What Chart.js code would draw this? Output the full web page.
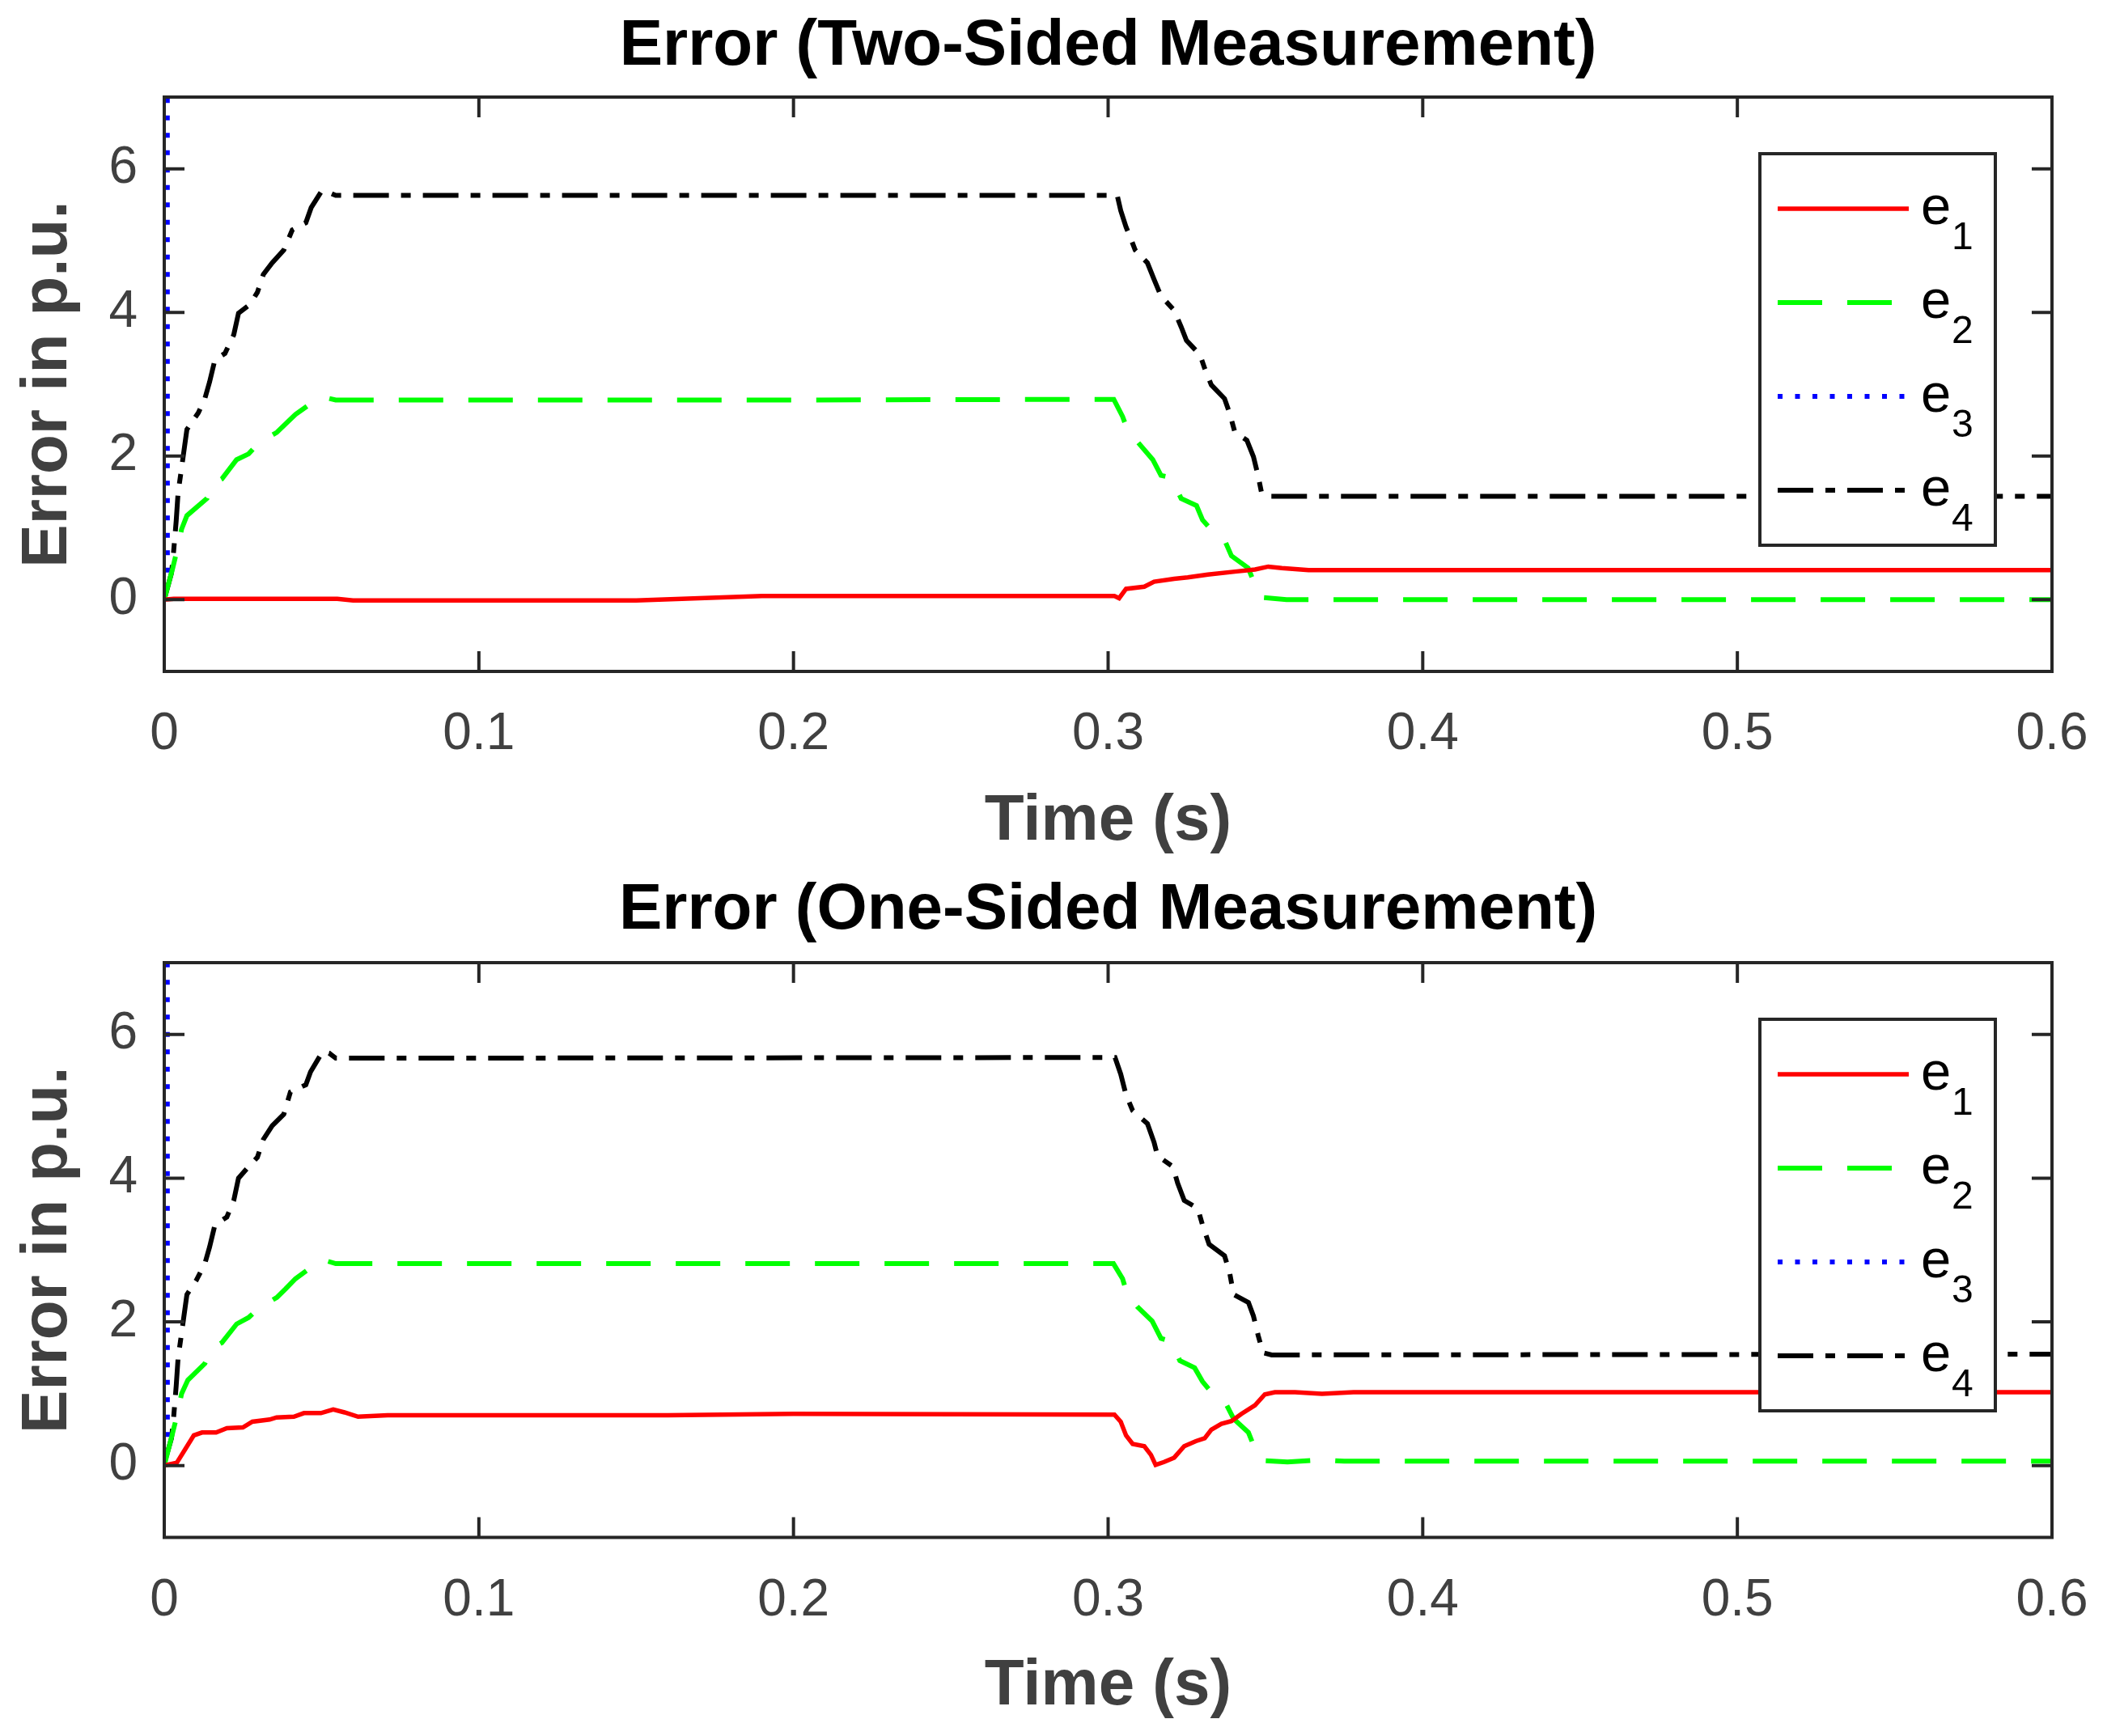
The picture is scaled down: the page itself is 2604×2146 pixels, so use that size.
<!DOCTYPE html>
<html lang="en">
<head>
  <meta charset="UTF-8" />
  <title>Error (Two-Sided / One-Sided Measurement)</title>
  <script src="https://cdn.jsdelivr.net/npm/chart.js"></script>
  <style>
    html, body { margin: 0; padding: 0; background: #fff; }
    .panel { position: absolute; left: 0; width: 2604px; height: 1073px; }
  </style>
</head>
<body>
  <div class="panel" style="top:0"><canvas id="twoSided" width="2604" height="1073"></canvas></div>
  <div class="panel" style="top:1073px"><canvas id="oneSided" width="2604" height="1073"></canvas></div>

  <script>
    // axis ticks
    const xTicks = [0, 0.1, 0.2, 0.3, 0.4, 0.5, 0.6];
    const yTicks = [0, 2, 4, 6];
    const seriesLabels = ["e_1", "e_2", "e_3", "e_4"];

    // two-sided measurement, [time, error]
    const twoE1 = [[0,0.0],[0.003,0.01],[0.055,0.01],[0.06,-0.01],[0.15,-0.01],[0.19,0.05],[0.302,0.05],[0.3035,0.02],
      [0.3057,0.15],[0.3115,0.18],[0.3146,0.25],[0.321,0.29],[0.3253,0.31],[0.3317,0.35],[0.3403,0.39],[0.3467,0.42],
      [0.3509,0.46],[0.3552,0.44],[0.3637,0.41],[0.6,0.41]];
    const twoE2 = [[0,0],[0.0027,0.44],[0.0044,0.75],[0.0055,0.98],[0.0072,1.17],[0.0136,1.41],[0.015,1.6],[0.0183,1.68],
      [0.023,1.95],[0.0268,2.03],[0.03,2.18],[0.0358,2.33],[0.0386,2.45],[0.0417,2.58],[0.0482,2.78],[0.0508,2.82],
      [0.0545,2.78],[0.19,2.78],[0.3018,2.79],[0.3046,2.55],[0.3061,2.37],[0.3093,2.2],[0.3142,1.95],[0.3168,1.73],
      [0.32,1.7],[0.3232,1.41],[0.3281,1.31],[0.33,1.11],[0.3339,0.92],[0.337,0.83],[0.3392,0.61],[0.3445,0.44],
      [0.3467,0.21],[0.3488,0.03],[0.3567,0.0],[0.6,0.0]];
    const twoE3 = [[0.0009,30],[0.001,0.2]];
    const twoE4 = [[0,0],[0.0023,0.37],[0.0029,0.63],[0.0038,1.1],[0.0044,1.49],[0.0055,1.83],[0.0072,2.37],[0.0108,2.6],
      [0.0129,2.8],[0.0144,3.03],[0.0161,3.34],[0.0193,3.43],[0.0221,3.69],[0.0236,3.99],[0.0272,4.11],[0.0296,4.28],
      [0.0315,4.53],[0.0343,4.69],[0.038,4.87],[0.0407,5.15],[0.045,5.25],[0.0467,5.46],[0.05,5.69],[0.0524,5.67],
      [0.0545,5.63],[0.3029,5.63],[0.304,5.42],[0.3057,5.19],[0.3071,5.04],[0.3086,4.87],[0.3125,4.69],[0.3146,4.46],
      [0.3168,4.23],[0.321,4.03],[0.3232,3.8],[0.3249,3.61],[0.3292,3.41],[0.3307,3.22],[0.3328,2.99],[0.337,2.8],
      [0.3386,2.6],[0.3403,2.33],[0.3441,2.22],[0.3462,1.99],[0.3477,1.72],[0.3488,1.48],[0.3509,1.44],[0.6,1.44]];

    // one-sided measurement, [time, error]
    const oneE1 = [[0,0.0],[0.004,0.04],[0.0067,0.23],[0.0094,0.42],[0.012,0.46],[0.0165,0.46],[0.0199,0.52],[0.025,0.53],
      [0.028,0.61],[0.0335,0.64],[0.0357,0.67],[0.0412,0.68],[0.0444,0.73],[0.0498,0.73],[0.0537,0.78],[0.0573,0.74],
      [0.0616,0.68],[0.071,0.7],[0.16,0.7],[0.2,0.72],[0.302,0.71],[0.304,0.61],[0.3057,0.42],[0.3078,0.3],[0.3115,0.27],
      [0.3136,0.15],[0.3151,0.01],[0.3178,0.05],[0.321,0.11],[0.3242,0.27],[0.3279,0.34],[0.3307,0.38],[0.3328,0.5],
      [0.336,0.58],[0.3392,0.62],[0.3424,0.72],[0.3467,0.84],[0.3498,0.99],[0.353,1.02],[0.3594,1.02],[0.368,1.0],
      [0.378,1.02],[0.6,1.02]];
    const oneE2 = [[0,0],[0.0027,0.46],[0.0044,0.76],[0.0055,1.0],[0.0075,1.19],[0.0129,1.42],[0.015,1.63],[0.0183,1.71],
      [0.023,1.97],[0.0268,2.06],[0.03,2.19],[0.0358,2.34],[0.0386,2.46],[0.0417,2.6],[0.0482,2.81],[0.0508,2.86],
      [0.0545,2.81],[0.3017,2.81],[0.3046,2.6],[0.3061,2.38],[0.3093,2.21],[0.314,2.01],[0.3168,1.77],[0.32,1.73],
      [0.3228,1.46],[0.3275,1.36],[0.33,1.17],[0.3339,0.96],[0.3377,0.84],[0.3399,0.65],[0.3446,0.46],[0.3467,0.23],
      [0.3492,0.07],[0.357,0.05],[0.368,0.08],[0.375,0.06],[0.6,0.06]];
    const oneE3 = [[0.0009,30],[0.001,0.25]];
    const oneE4 = [[0,0.03],[0.0023,0.38],[0.0029,0.63],[0.0038,1.11],[0.0044,1.5],[0.0055,1.84],[0.0072,2.38],[0.0102,2.58],
      [0.0129,2.81],[0.0144,3.04],[0.0161,3.35],[0.0199,3.46],[0.0221,3.69],[0.0236,4.0],[0.0268,4.16],[0.0296,4.29],
      [0.0315,4.54],[0.0343,4.73],[0.038,4.89],[0.0401,5.2],[0.045,5.3],[0.0465,5.48],[0.0503,5.76],[0.0524,5.74],
      [0.0545,5.67],[0.3022,5.68],[0.304,5.45],[0.3057,5.16],[0.3078,4.94],[0.3125,4.76],[0.3146,4.5],[0.3157,4.31],
      [0.3206,4.16],[0.3221,3.93],[0.3242,3.69],[0.3285,3.58],[0.33,3.35],[0.3321,3.08],[0.337,2.92],[0.3386,2.69],
      [0.3399,2.38],[0.3446,2.27],[0.3462,2.08],[0.3477,1.81],[0.3492,1.57],[0.352,1.54],[0.6,1.55]];

    const FONT = "'Liberation Sans', Arial, Helvetica, sans-serif";
    const AXIS = "#262626";
    const LABEL = "#404040";

    const styles = [
      { borderColor: "#ff0000", borderWidth: 5.5, borderDash: [] },
      { borderColor: "#00ff00", borderWidth: 6, borderDash: [55, 31] },
      { borderColor: "#0000ff", borderWidth: 6, borderDash: [6, 15.5] },
      { borderColor: "#000000", borderWidth: 6, borderDash: [44, 15, 12, 15] }
    ];

    // inward tick marks and the box around the axes
    const framePlugin = {
      id: "frame",
      afterDatasetsDraw(chart) {
        const { ctx, chartArea: a, scales: { x, y } } = chart;
        ctx.save();
        ctx.strokeStyle = AXIS;
        ctx.lineWidth = 4;
        ctx.setLineDash([]);
        ctx.beginPath();
        x.ticks.forEach(t => {
          const px = x.getPixelForValue(t.value);
          ctx.moveTo(px, a.bottom); ctx.lineTo(px, a.bottom - 25);
          ctx.moveTo(px, a.top); ctx.lineTo(px, a.top + 25);
        });
        y.ticks.forEach(t => {
          const py = y.getPixelForValue(t.value);
          ctx.moveTo(a.left, py); ctx.lineTo(a.left + 25, py);
          ctx.moveTo(a.right, py); ctx.lineTo(a.right - 25, py);
        });
        ctx.stroke();
        ctx.strokeRect(a.left, a.top, a.right - a.left, a.bottom - a.top);
        ctx.restore();
      }
    };

    // MATLAB style legend box in the upper right corner
    const boxLegend = {
      id: "boxLegend",
      afterDraw(chart) {
        const { ctx, chartArea: a } = chart;
        const left = a.right - 361, top = a.top + 70, w = 291, h = 484;
        ctx.save();
        ctx.fillStyle = "#fff";
        ctx.fillRect(left, top, w, h);
        ctx.strokeStyle = AXIS;
        ctx.lineWidth = 4;
        ctx.setLineDash([]);
        ctx.strokeRect(left, top, w, h);
        chart.data.datasets.forEach((ds, i) => {
          const ly = top + 68 + i * 116;
          ctx.strokeStyle = ds.borderColor;
          ctx.lineWidth = ds.borderWidth;
          ctx.setLineDash(ds.borderDash);
          ctx.beginPath();
          ctx.moveTo(left + 22, ly);
          ctx.lineTo(left + 184, ly);
          ctx.stroke();
          const [base, sub] = ds.label.split("_");
          ctx.fillStyle = "#000";
          ctx.textBaseline = "alphabetic";
          ctx.textAlign = "left";
          ctx.font = "67px " + FONT;
          ctx.fillText(base, left + 199, ly + 19);
          ctx.font = "48px " + FONT;
          ctx.fillText(sub, left + 237, ly + 50);
        });
        ctx.restore();
      }
    };

    function makeChart(id, titleText, series, geo) {
      new Chart(document.getElementById(id), {
        type: "line",
        data: {
          datasets: series.map((pts, i) => ({
            label: seriesLabels[i],
            data: pts.map(p => ({ x: p[0], y: p[1] })),
            borderColor: styles[i].borderColor,
            borderWidth: styles[i].borderWidth,
            borderDash: styles[i].borderDash,
            pointRadius: 0,
            tension: 0,
            fill: false
          }))
        },
        options: {
          responsive: false,
          devicePixelRatio: 1,
          animation: false,
          layout: { padding: { left: 0, right: 68, top: 0, bottom: 0 } },
          plugins: {
            legend: { display: false },
            tooltip: { enabled: false },
            title: {
              display: true,
              text: titleText,
              fullSize: false,
              color: "#000",
              font: { family: FONT, size: 80, weight: "bold", lineHeight: 1.2 },
              padding: { top: geo.titleTop, bottom: geo.titleBottom }
            }
          },
          scales: {
            x: {
              type: "linear",
              min: 0,
              max: 0.6,
              // tick marks are drawn by the frame plugin; tickLength only spaces the labels
              grid: { display: false, drawTicks: true, tickLength: 40 },
              border: { display: false },
              afterBuildTicks: s => { s.ticks = xTicks.map(v => ({ value: v })); },
              afterFit: s => { s.height = geo.xHeight; },
              ticks: {
                color: LABEL,
                padding: 0,
                maxRotation: 0,
                font: { family: FONT, size: 64 },
                callback: v => String(v)
              },
              title: {
                display: true,
                text: "Time (s)",
                color: LABEL,
                font: { family: FONT, size: 80, weight: "bold", lineHeight: 1.2 },
                padding: { top: 0, bottom: geo.xTitleBottom }
              }
            },
            y: {
              min: -1,
              max: 7,
              grid: { display: false, drawTicks: true, tickLength: 33 },
              border: { display: false },
              afterBuildTicks: s => { s.ticks = yTicks.map(v => ({ value: v })); },
              afterFit: s => { s.width = 203; },
              ticks: {
                color: LABEL,
                padding: 0,
                font: { family: FONT, size: 64 },
                callback: v => String(v)
              },
              title: {
                display: true,
                text: "Error in p.u.",
                color: LABEL,
                font: { family: FONT, size: 80, weight: "bold", lineHeight: 1.2 },
                padding: { top: 12, bottom: 0 }
              }
            }
          }
        },
        plugins: [framePlugin, boxLegend]
      });
    }

    makeChart("twoSided", "Error (Two-Sided Measurement)", [twoE1, twoE2, twoE3, twoE4],
      { titleTop: 10, titleBottom: 14, xHeight: 243, xTitleBottom: 9 });
    makeChart("oneSided", "Error (One-Sided Measurement)", [oneE1, oneE2, oneE3, oneE4],
      { titleTop: 5, titleBottom: 16, xHeight: 245.5, xTitleBottom: 13 });
  </script>
</body>
</html>
